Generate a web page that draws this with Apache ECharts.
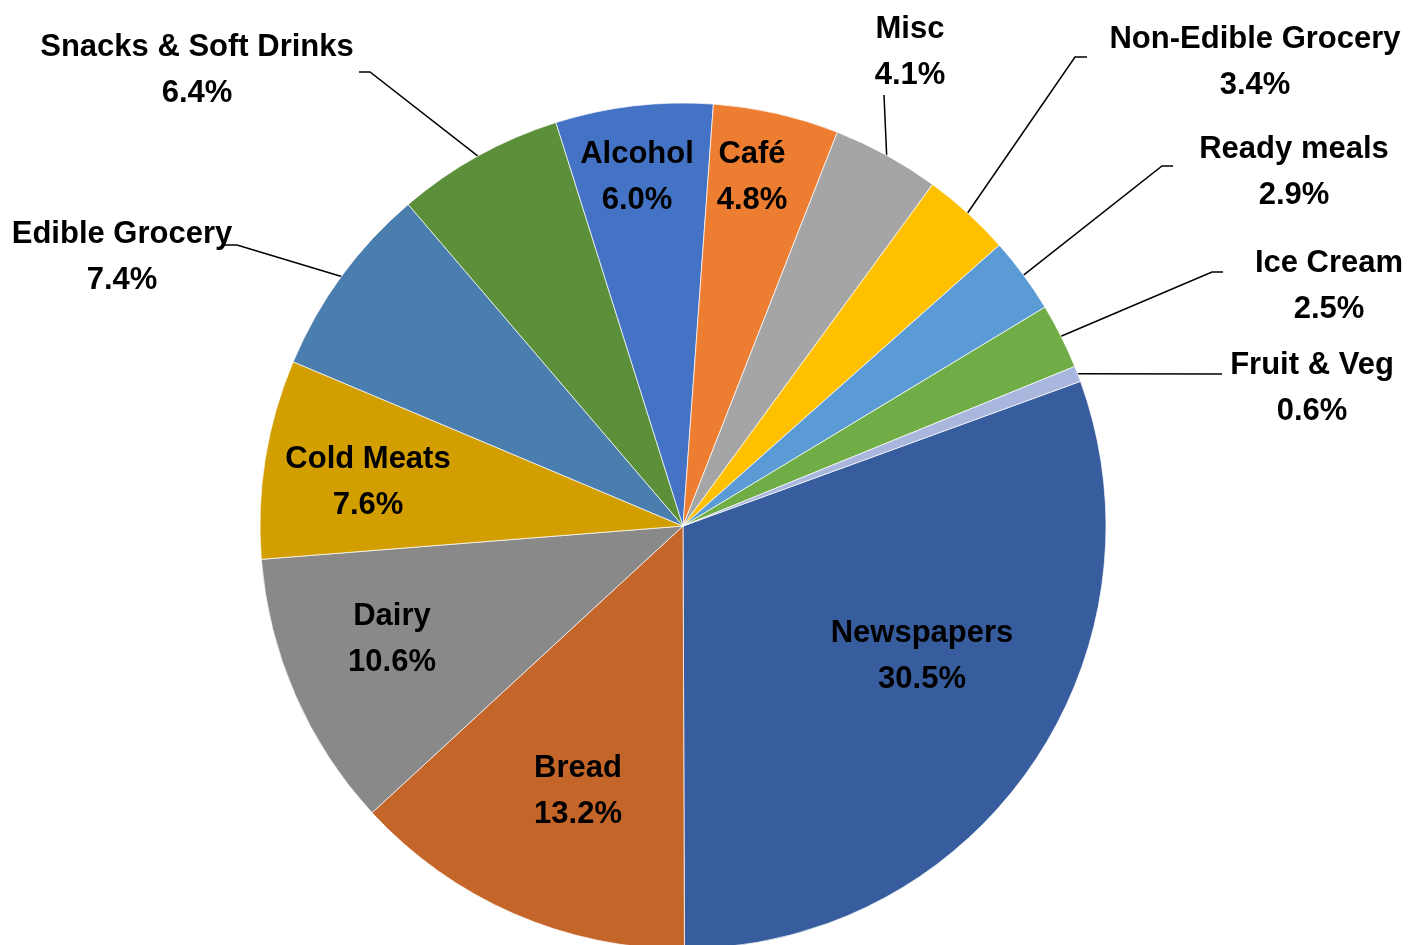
<!DOCTYPE html>
<html>
<head>
    <meta charset="utf-8" />
    <title>Sales mix</title>
    <script src="https://cdn.jsdelivr.net/npm/echarts@6/dist/echarts.min.js"></script>
    <style>
        html, body { margin: 0; padding: 0; background: #fff; }
    </style>
</head>
<body>
    <div id="main" style="width: 1425px;height:945px;"></div>
    <script type="text/javascript">
        // categories and share (%) clockwise, starting with Newspapers
        var names = ['Newspapers', 'Bread', 'Dairy', 'Cold Meats', 'Edible Grocery', 'Snacks & Soft Drinks',
            'Alcohol', 'Café', 'Misc', 'Non-Edible Grocery', 'Ready meals', 'Ice Cream', 'Fruit & Veg'];
        var shares = [30.5, 13.2, 10.6, 7.6, 7.4, 6.4, 6.0, 4.8, 4.1, 3.4, 2.9, 2.5, 0.6];
        var colors = ['#375d9e', '#c4652a', '#898989', '#d39e00', '#4a7eae', '#5b8f3a',
            '#4472c4', '#ed7d31', '#a5a5a5', '#ffc000', '#5b9bd5', '#70ad47', '#a9b6de'];

        // label placement (text centre) and leader line bends, pixels
        var labelPos = [
            [922, 656], [578, 791], [392, 639], [368, 482], [122, 257], [197, 70],
            [637, 177], [752, 177], [910, 52], [1255, 62], [1294, 172], [1329, 286], [1312, 388]
        ];
        var leader = [
            null, null, null, null, [[237, 245], [225, 245]], [[370, 72], [359, 72]],
            null, null, [[884, 95]], [[1075, 57], [1087, 57]], [[1162, 166], [1173, 166]],
            [[1212, 272], [1223, 272]], [[1222, 374]]
        ];

        var data = [];
        for (var i = 0; i < names.length; i++) {
            data.push({
                name: names[i],
                value: shares[i],
                itemStyle: { color: colors[i] },
                labelLine: { show: leader[i] != null }
            });
        }

        var myChart = echarts.init(document.getElementById('main'));
        var option = {
            animation: false,
            series: [{
                name: 'Sales',
                type: 'pie',
                center: [683, 526],
                radius: 423,
                startAngle: 20,
                clockwise: true,
                avoidLabelOverlap: false,
                minShowLabelAngle: 0,
                itemStyle: {
                    borderColor: 'rgba(255,255,255,0.7)',
                    borderWidth: 1
                },
                label: {
                    show: true,
                    position: 'outside',
                    color: '#000',
                    fontFamily: 'Liberation Sans',
                    fontWeight: 'bold',
                    fontSize: 31,
                    lineHeight: 46,
                    formatter: function (p) {
                        return p.name + '\n' + p.value.toFixed(1) + '%';
                    }
                },
                labelLine: {
                    lineStyle: { color: '#000', width: 1.5 }
                },
                labelLayout: function (params) {
                    var i = params.dataIndex;
                    var res = {
                        x: labelPos[i][0],
                        y: labelPos[i][1],
                        align: 'center',
                        verticalAlign: 'middle'
                    };
                    if (leader[i] && params.labelLinePoints) {
                        var pts = [params.labelLinePoints[0]];
                        for (var k = 0; k < leader[i].length; k++) pts.push(leader[i][k]);
                        res.labelLinePoints = pts;
                    }
                    return res;
                },
                data: data
            }]
        };
        myChart.setOption(option);
    </script>
</body>
</html>
